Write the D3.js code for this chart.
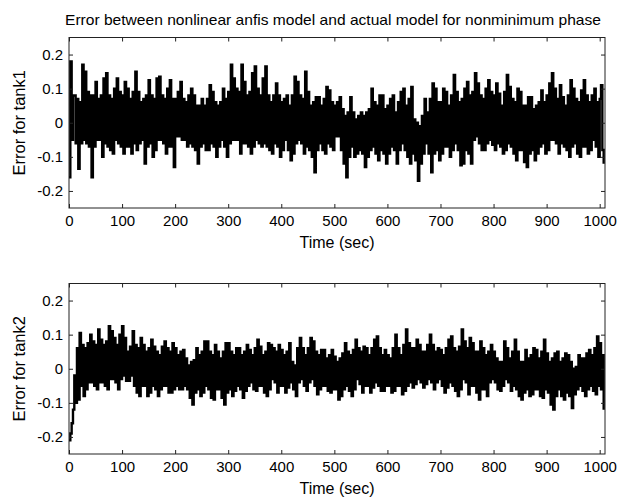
<!DOCTYPE html>
<html>
<head>
<meta charset="utf-8">
<script src="https://cdn.jsdelivr.net/npm/d3@7"></script>
<style>
  body { margin: 0; background: #fff; }
  text { font-family: "Liberation Sans", Arial, sans-serif; fill: #000; }
</style>
</head>
<body>
<div id="app"></div>
<script>
// sample spacing of both error signals, in seconds
const sampleStep = 2.5
const xTicks = [0, 100, 200, 300, 400, 500, 600, 700, 800, 900, 1000]
const yTicks = [-0.2, -0.1, 0, 0.1, 0.2]
const yTickLabels = ['-0.2', '-0.1', '0', '0.1', '0.2']

const titleText = 'Error between nonlinear anfis model and actual model for nonminimum phase'
const xLabel = 'Time (sec)'
const yLabels = ['Error for tank1', 'Error for tank2']

// error for tank1 (one row = 30 s)
const tank1 = [
  -0.16, 0.18, -0.05, 0.08,   0.08, -0.06, 0.07, -0.135,   0.06, -0.06, 0.17, -0.05,
  0.15, -0.06, 0.09, -0.07,   0.08, -0.16, 0.08, -0.07,   0.12, -0.05, 0.07, -0.05,
  0.08, -0.10, 0.13, -0.06,   0.145, -0.07, 0.08, -0.08,   0.07, -0.09, 0.10, -0.05,
  0.13, -0.06, 0.09, -0.07,   0.08, -0.09, 0.12, -0.07,   0.10, -0.07, 0.07, -0.09,
  0.09, -0.06, 0.15, -0.08,   0.09, -0.06, 0.06, -0.05,   0.07, -0.12, 0.08, -0.07,
  0.125, -0.06, 0.08, -0.10,   0.07, -0.08, 0.13, -0.05,   0.135, -0.05, 0.08, -0.06,
  0.07, -0.09, 0.10, -0.07,   0.125, -0.07, 0.07, -0.13,   0.07, -0.04, 0.09, -0.04,
  0.12, -0.05, 0.07, -0.05,   0.06, -0.07, 0.08, -0.06,   0.10, -0.07, 0.08, -0.08,
  0.05, -0.12, 0.05, -0.07,   0.07, -0.06, 0.05, -0.08,   0.07, -0.08, 0.11, -0.06,
  0.09, -0.07, 0.06, -0.10,   0.05, -0.07, 0.06, -0.05,   0.10, -0.07, 0.07, -0.10,
  0.09, -0.06, 0.17, -0.05,   0.13, -0.05, 0.10, -0.05,   0.09, -0.09, 0.17, -0.06,
  0.12, -0.06, 0.08, -0.07,   0.09, -0.09, 0.145, -0.07,   0.165, -0.05, 0.10, -0.06,
  0.08, -0.07, 0.13, -0.06,   0.165, -0.07, 0.08, -0.08,   0.06, -0.09, 0.08, -0.06,
  0.115, -0.07, 0.08, -0.10,   0.06, -0.08, 0.07, -0.05,   0.08, -0.08, 0.05, -0.11,
  0.08, -0.09, 0.135, -0.06,   0.12, -0.05, 0.08, -0.06,   0.07, -0.09, 0.15, -0.07,
  0.09, -0.08, 0.05, -0.10,   0.06, -0.145, 0.075, -0.08,   0.075, -0.06, 0.05, -0.08,
  0.07, -0.09, 0.105, -0.06,   0.095, -0.07, 0.06, -0.08,   0.05, -0.04, 0.06, -0.04,
  0.075, -0.08, 0.04, -0.12,   0.02, -0.16, 0.03, -0.10,   0.075, -0.07, 0.03, -0.10,
  0.01, -0.09, 0.02, -0.08,   0.03, -0.09, 0.02, -0.13,   0.03, -0.10, 0.04, -0.08,
  0.10, -0.07, 0.06, -0.09,   0.05, -0.11, 0.08, -0.08,   0.08, -0.09, 0.04, -0.12,
  0.05, -0.09, 0.07, -0.07,   0.08, -0.08, 0.03, -0.12,   0.06, -0.08, 0.09, -0.06,
  0.10, -0.08, 0.05, -0.10,   0.07, -0.12, 0.105, -0.09,   0.01, -0.11, 0.0, -0.17,
  -0.01, -0.12, 0.02, -0.09,   0.07, -0.06, 0.03, -0.09,   0.07, -0.145, 0.115, -0.09,
  0.10, -0.08, 0.06, -0.11,   0.06, -0.09, 0.10, -0.07,   0.09, -0.07, 0.05, -0.10,
  0.08, -0.08, 0.14, -0.06,   0.09, -0.08, 0.06, -0.125,   0.07, -0.12, 0.10, -0.08,
  0.12, -0.09, 0.08, -0.12,   0.09, -0.05, 0.145, -0.04,   0.115, -0.06, 0.08, -0.08,
  0.07, -0.08, 0.10, -0.06,   0.125, -0.05, 0.09, -0.065,   0.08, -0.08, 0.115, -0.06,
  0.085, -0.07, 0.05, -0.09,   0.09, -0.08, 0.14, -0.06,   0.105, -0.07, 0.07, -0.09,
  0.06, -0.11, 0.10, -0.08,   0.09, -0.08, 0.05, -0.115,   0.05, -0.13, 0.075, -0.09,
  0.075, -0.08, 0.04, -0.11,   0.05, -0.09, 0.06, -0.07,   0.095, -0.06, 0.06, -0.09,
  0.08, -0.08, 0.115, -0.05,   0.145, -0.05, 0.10, -0.06,   0.07, -0.09, 0.11, -0.06,
  0.075, -0.07, 0.05, -0.08,   0.08, -0.10, 0.125, -0.07,   0.10, -0.06, 0.07, -0.09,
  0.06, -0.10, 0.095, -0.07,   0.125, -0.07, 0.08, -0.09,   0.06, -0.08, 0.08, -0.05,
  0.10, -0.07, 0.06, -0.10,   0.07, 0.11, -0.08, -0.12
]

// error for tank2 (one row = 30 s)
const tank2 = [
  -0.21, -0.19, -0.16, -0.12,   -0.02, -0.10, 0.06, -0.09,   0.105, -0.05, 0.07, -0.08,
  0.06, -0.06, 0.075, -0.04,   0.10, -0.04, 0.08, -0.05,   0.07, -0.06, 0.115, -0.04,
  0.085, -0.04, 0.07, -0.05,   0.08, -0.06, 0.125, -0.03,   0.11, -0.03, 0.09, -0.04,
  0.07, -0.06, 0.10, -0.03,   0.125, -0.02, 0.09, -0.035,   0.05, -0.035, 0.065, -0.02,
  0.11, -0.05, 0.07, -0.07,   0.06, -0.08, 0.09, -0.05,   0.07, -0.05, 0.05, -0.08,
  0.06, -0.07, 0.085, -0.05,   0.065, -0.06, 0.05, -0.08,   0.04, -0.06, 0.065, -0.05,
  0.08, -0.05, 0.06, -0.07,   0.05, -0.07, 0.075, -0.06,   0.06, -0.05, 0.04, -0.06,
  0.05, -0.06, 0.055, -0.05,   0.03, -0.06, 0.01, -0.085,   0.02, -0.105, 0.025, -0.07,
  0.06, -0.06, 0.04, -0.08,   0.05, -0.07, 0.08, -0.05,   0.08, -0.06, 0.05, -0.085,
  0.04, -0.09, 0.07, -0.06,   0.05, -0.06, 0.03, -0.085,   0.05, -0.105, 0.075, -0.07,
  0.075, -0.06, 0.05, -0.08,   0.04, -0.065, 0.06, -0.05,   0.06, -0.06, 0.04, -0.085,
  0.05, -0.065, 0.07, -0.05,   0.055, -0.04, 0.04, -0.06,   0.06, -0.065, 0.085, -0.05,
  0.065, -0.05, 0.04, -0.07,   0.05, -0.08, 0.075, -0.06,   0.07, -0.03, 0.06, -0.04,
  0.05, -0.07, 0.07, -0.05,   0.055, -0.05, 0.04, -0.07,   0.05, -0.055, 0.075, -0.04,
  0.02, -0.06, 0.01, -0.08,   0.06, -0.04, 0.09, -0.03,   0.06, -0.05, 0.04, -0.065,
  0.06, -0.04, 0.09, -0.03,   0.08, -0.05, 0.05, -0.075,   0.04, -0.06, 0.055, -0.05,
  0.055, -0.05, 0.03, -0.065,   0.04, -0.07, 0.055, -0.06,   0.035, -0.06, 0.02, -0.09,
  0.03, -0.08, 0.045, -0.06,   0.075, -0.05, 0.05, -0.065,   0.04, -0.08, 0.055, -0.06,
  0.085, -0.03, 0.06, -0.045,   0.05, -0.07, 0.065, -0.05,   0.06, -0.05, 0.04, -0.07,
  0.06, -0.055, 0.085, -0.04,   0.095, -0.05, 0.06, -0.065,   0.04, -0.065, 0.055, -0.05,
  0.04, -0.05, 0.03, -0.07,   0.06, -0.065, 0.10, -0.05,   0.06, -0.05, 0.04, -0.075,
  0.07, -0.065, 0.115, -0.05,   0.075, -0.04, 0.06, -0.055,   0.06, -0.045, 0.085, -0.03,
  0.07, -0.04, 0.05, -0.055,   0.05, -0.045, 0.07, -0.03,   0.10, -0.04, 0.07, -0.06,
  0.05, -0.04, 0.06, -0.03,   0.055, -0.05, 0.04, -0.07,   0.06, -0.055, 0.085, -0.04,
  0.095, -0.05, 0.06, -0.065,   0.05, -0.08, 0.065, -0.06,   0.115, -0.03, 0.08, -0.04,
  0.06, -0.075, 0.09, -0.05,   0.075, -0.05, 0.05, -0.07,   0.05, -0.09, 0.08, -0.06,
  0.06, -0.06, 0.04, -0.08,   0.05, -0.04, 0.07, -0.03,   0.05, -0.04, 0.03, -0.06,
  0.02, -0.065, 0.02, -0.05,   0.08, -0.03, 0.06, -0.04,   0.03, -0.065, 0.05, -0.05,
  0.085, -0.06, 0.05, -0.08,   0.02, -0.09, 0.02, -0.07,   0.055, -0.06, 0.03, -0.08,
  0.04, -0.075, 0.06, -0.06,   0.055, -0.06, 0.03, -0.08,   0.05, -0.085, 0.085, -0.06,
  0.045, -0.07, 0.02, -0.105,   0.03, -0.12, 0.045, -0.08,   0.05, -0.06, 0.02, -0.08,
  0.03, -0.09, 0.045, -0.07,   0.04, -0.08, 0.02, -0.115,   0.0, -0.075, 0.005, -0.06,
  0.04, -0.05, 0.03, -0.065,   0.03, -0.08, 0.045, -0.06,   0.055, -0.05, 0.04, -0.065,
  0.06, -0.075, 0.095, -0.05,   0.075, -0.06, 0.04, -0.12
]

const width = 620
const height = 499
const plotLeft = 69
const plotRight = 605
const plotHeight = 170.5
const panelTops = [37.5, 283.5]

const svg = d3.select('#app')
  .append('svg')
  .attr('width', width)
  .attr('height', height)

svg.append('rect').attr('width', width).attr('height', height).attr('fill', '#fff')

const x = d3.scaleLinear()
  .domain([0, 1010])
  .range([0, plotRight - plotLeft])

const y = d3.scaleLinear()
  .domain([-0.25, 0.25])
  .range([plotHeight, 0])

const line = d3.line()
  .curve(d3.curveStepAfter)
  .x((d, i) => x(i * sampleStep))
  .y(d => y(d))

svg.append('text')
  .attr('x', 333)
  .attr('y', 25)
  .attr('text-anchor', 'middle')
  .attr('textLength', 536)
  .attr('lengthAdjust', 'spacingAndGlyphs')
  .style('font-size', '15px')
  .text(titleText)

function drawPanel(data, top, label, idx) {
  const g = svg.append('g')
    .attr('transform', `translate(${plotLeft}, ${top})`)

  g.append('clipPath').attr('id', 'clip' + idx)
    .append('rect')
    .attr('width', plotRight - plotLeft)
    .attr('height', plotHeight)

  g.append('path')
    .datum(data)
    .attr('clip-path', `url(#clip${idx})`)
    .attr('fill', 'none')
    .attr('stroke', '#000')
    .attr('stroke-width', 2.4)
    .attr('d', line)

  const bottomAxis = g.append('g')
    .attr('transform', `translate(0, ${plotHeight})`)
    .call(d3.axisBottom(x).tickValues(xTicks).tickSizeInner(-4).tickSizeOuter(0).tickPadding(7)
      .tickFormat(d3.format('d')))
  const topAxis = g.append('g')
    .call(d3.axisTop(x).tickValues(xTicks).tickSizeInner(-4).tickSizeOuter(0).tickFormat(''))
  const leftAxis = g.append('g')
    .call(d3.axisLeft(y).tickValues(yTicks).tickSizeInner(-4).tickSizeOuter(0).tickPadding(6)
      .tickFormat((d, i) => yTickLabels[i]))
  const rightAxis = g.append('g')
    .attr('transform', `translate(${plotRight - plotLeft}, 0)`)
    .call(d3.axisRight(y).tickValues(yTicks).tickSizeInner(-4).tickSizeOuter(0).tickFormat(''))

  for (const a of [bottomAxis, topAxis, leftAxis, rightAxis]) {
    a.select('.domain').remove()
    a.selectAll('line').attr('stroke', '#222')
    a.selectAll('text').style('font-size', '15px').attr('fill', '#000')
      .style('font-family', '"Liberation Sans", Arial, sans-serif')
  }

  g.append('rect')
    .attr('width', plotRight - plotLeft)
    .attr('height', plotHeight)
    .attr('fill', 'none')
    .attr('stroke', '#222')
    .attr('stroke-width', 1)

  g.append('text')
    .attr('x', (plotRight - plotLeft) / 2)
    .attr('y', plotHeight + 39.5)
    .attr('text-anchor', 'middle')
    .style('font-size', '16px')
    .text(xLabel)

  g.append('text')
    .attr('transform', `translate(${-44}, ${plotHeight / 2}) rotate(-90)`)
    .attr('text-anchor', 'middle')
    .style('font-size', '16.5px')
    .text(label)
}

drawPanel(tank1, panelTops[0], yLabels[0], 0)
drawPanel(tank2, panelTops[1], yLabels[1], 1)
</script>
</body>
</html>
